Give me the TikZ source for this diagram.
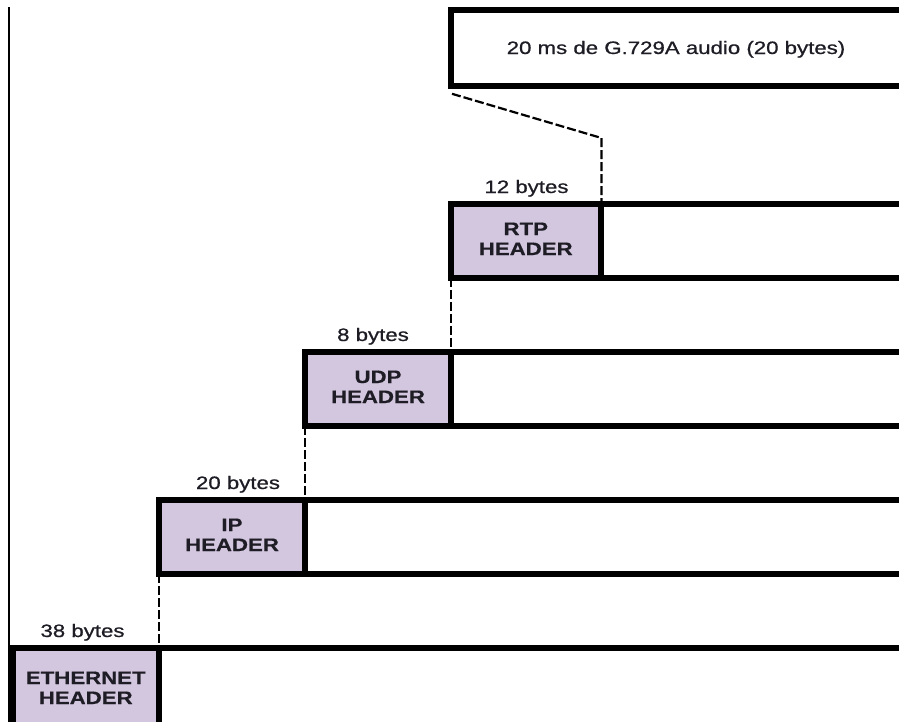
\documentclass[tikz,border=0pt]{standalone}
\usepackage{fontspec}
\setmainfont{Liberation Sans}
\newfontfamily\labelfont{Liberation Sans}[FakeBold=0.7]
\newfontfamily\headfont{Liberation Sans Bold}[FakeBold=0.4]
\usepackage{graphicx}
\usetikzlibrary{calc}
\definecolor{hdrfill}{RGB}{211,199,224}
\definecolor{ink}{RGB}{30,28,36}
% text in this figure is set slightly wide
\newcommand{\stretchtxt}[1]{\scalebox{1.235}[1]{#1}}
\newcommand{\hdrtxt}[2]{\stretchtxt{\begin{tabular}{@{}c@{}}#1\\#2\end{tabular}}}

\begin{document}
\begin{tikzpicture}[x=1pt,y=-1pt,
  frame/.style={draw=black, line width=6pt, line join=miter, inner sep=0pt, outer sep=0pt},
  hdr/.style={frame, fill=hdrfill, rectangle, minimum height=74pt, text=ink,
              font=\fontsize{18}{20}\selectfont\headfont},
  bytes/.style={anchor=base, inner sep=0pt, text=ink, font=\fontsize{18}{20}\selectfont\labelfont},
  guide/.style={draw=black, line width=2.2pt, dash pattern=on 9pt off 3pt}]
\useasboundingbox (0,0) rectangle (899,721);
\clip (0,0) rectangle (899,721);
\fill[white] (0,0) rectangle (899,721);

% payload box
\node[frame, rectangle, minimum width=500pt, minimum height=76.6pt, anchor=north west] (audio) at (451,9.7) {};
\node[bytes] (audiotxt) at (676,54) {\stretchtxt{20 ms de G.729A audio (20 bytes)}};

% protocol headers, one per layer (the lowest one runs off the page)
\node[hdr, minimum width=146.5pt, minimum height=84pt] (eth) at (85.75,690) {\hdrtxt{ETHERNET}{HEADER}};
\node[hdr, minimum width=146pt]   (ip)  at (232,537)   {\hdrtxt{IP}{HEADER}};
\node[hdr, minimum width=146pt]   (udp) at (378,389)   {\hdrtxt{UDP}{HEADER}};
\node[hdr, minimum width=149.5pt] (rtp) at (525.75,241) {\hdrtxt{RTP}{HEADER}};

% packet bodies to the right of each header
\foreach \h in {eth,ip,udp,rtp}
  \draw[frame] (\h.north east) rectangle ($(\h.south east)+(900,0)$);

% header sizes
\node[bytes] (l38) at (82.5,637)  {\stretchtxt{38 bytes}};
\node[bytes] (l20) at (238,489)   {\stretchtxt{20 bytes}};
\node[bytes] (l8)  at (373,341)   {\stretchtxt{8 bytes}};
\node[bytes] (l12) at (526.5,193) {\stretchtxt{12 bytes}};

% left rail
\coordinate (railtop) at (9.3,7);
\draw[line width=2pt] (railtop) -- (railtop |- eth.south);

% encapsulation guides
\coordinate (bend) at (601.5,138);
\draw[guide] ($(audio.south west)+(1,7.5)$) -- (bend) -- (bend |- rtp.north east);
\draw[guide] (rtp.south west) -- (udp.north east);
\draw[guide] (udp.south west) -- (ip.north east);
\draw[guide] (ip.south west) -- (eth.north east);
\end{tikzpicture}
\end{document}
